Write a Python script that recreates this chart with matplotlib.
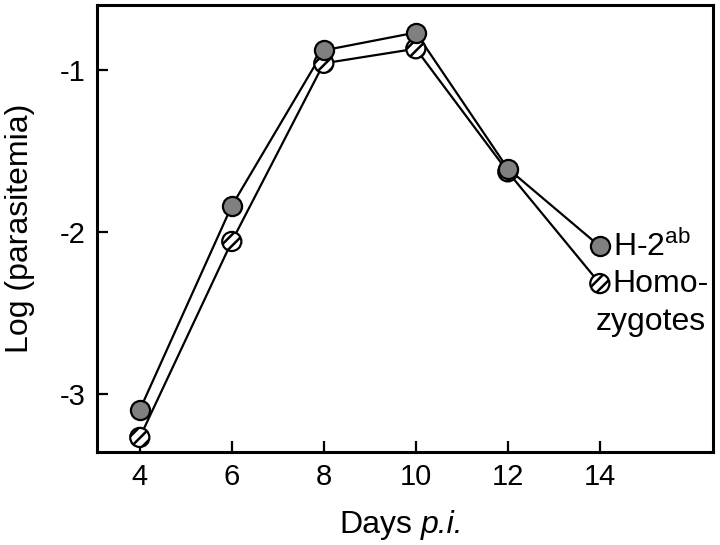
import matplotlib
matplotlib.use('Agg')
import matplotlib.pyplot as plt

# データ
days = [4, 6, 8, 10, 12, 14]
h2ab = [-3.10, -1.84, -0.88, -0.77, -1.61, -2.09]
homozygotes = [-3.27, -2.06, -0.96, -0.87, -1.63, -2.32]
x_ticks = [4, 6, 8, 10, 12, 14]
y_ticks = [-1, -2, -3]
y_tick_labels = ['-1', '-2', '-3']


def main():
    plt.rcParams['font.family'] = ['Liberation Sans', 'DejaVu Sans']
    plt.rcParams['mathtext.fontset'] = 'custom'
    plt.rcParams['mathtext.rm'] = 'Liberation Sans'
    plt.rcParams['hatch.linewidth'] = 1.8

    fig = plt.figure(figsize=(7.2, 5.45), dpi=100)
    ax = fig.add_axes([0.1347, 0.1706, 0.8556, 0.8202])

    # 線
    ax.plot(days, h2ab, color='black', lw=1.6, zorder=2)
    ax.plot(days, homozygotes, color='black', lw=1.6, zorder=2)

    # マーカー
    ax.scatter(days, homozygotes, s=190, facecolor='white', edgecolor='black',
               linewidth=1.6, hatch='///', zorder=3)
    ax.scatter(days, h2ab, s=190, facecolor='#808080', edgecolor='black',
               linewidth=1.6, zorder=4)

    ax.set_xlim(3.07, 16.46)
    ax.set_ylim(-3.36, -0.6)
    ax.set_xticks(x_ticks)
    ax.set_yticks(y_ticks)
    ax.set_yticklabels(y_tick_labels)
    ax.tick_params(direction='in', length=8, width=1.6, labelsize=21, pad=8)

    for s in ax.spines.values():
        s.set_linewidth(2.2)

    # x軸ラベル (p.i. はイタリック)
    fig.text(412 / 720, 1 - 533 / 545, 'Days', fontsize=23, ha='right', va='baseline')
    fig.text(421 / 720, 1 - 533 / 545, 'p.i.', fontsize=23, style='italic',
             ha='left', va='baseline')
    ax.set_ylabel('Log (parasitemia)', fontsize=23, labelpad=18)

    # ラベル
    ax.text(14.28, h2ab[-1], 'H-2$^{\\mathrm{ab}}$', fontsize=23, va='center', ha='left')
    ax.text(14.28, homozygotes[-1], 'Homo-', fontsize=23, va='center', ha='left')
    ax.text(13.91, homozygotes[-1] - 0.235, 'zygotes', fontsize=23, va='center', ha='left')

    plt.savefig('out.png', dpi=100)


if __name__ == '__main__':
    main()
